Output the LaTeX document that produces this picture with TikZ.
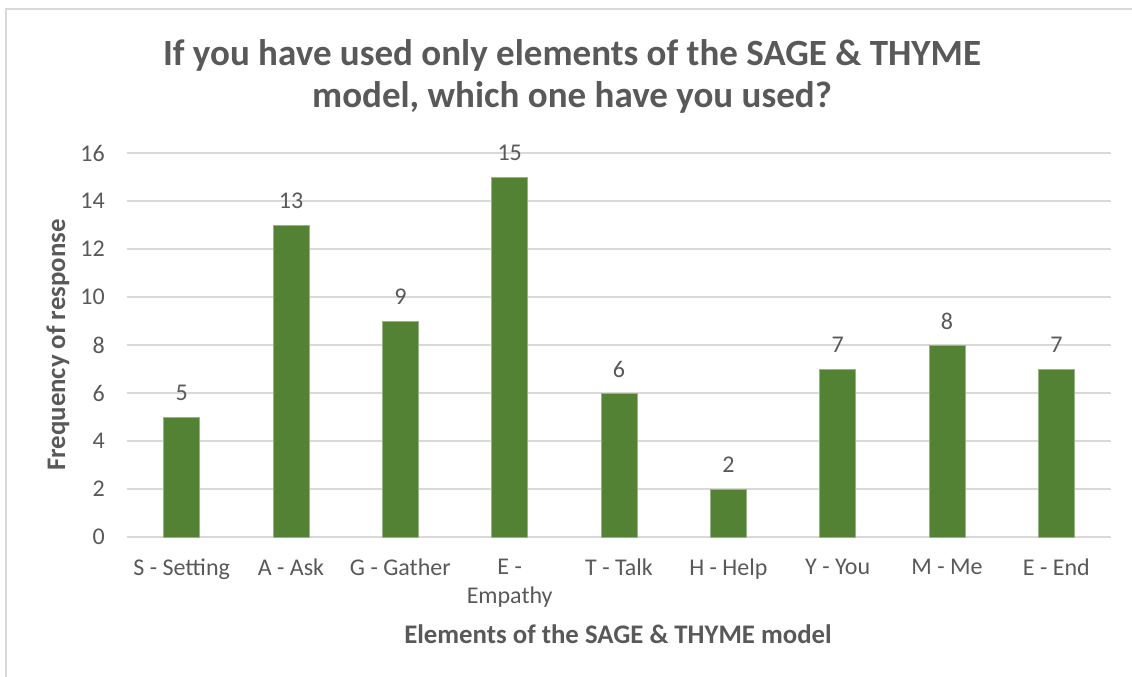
\documentclass[tikz,border=0pt]{standalone}
\usepackage{fontspec}
\setmainfont{Carlito}
\definecolor{txt}{HTML}{595959}
\definecolor{grid}{HTML}{D9D9D9}
\definecolor{bar}{HTML}{548235}
\begin{document}
\begin{tikzpicture}[x=1pt,y=-1pt,
  gridline/.style={draw=grid,line width=1.5pt},
  barbox/.style={fill=bar,draw=bar!60!white,line width=0.6pt},
  ticklab/.style={text=txt,font=\fontsize{24}{29}\selectfont,anchor=east,inner sep=0pt},
  catlab/.style={text=txt,font=\fontsize{24}{29}\selectfont,anchor=north,inner sep=0pt,align=center},
  vallab/.style={text=txt,font=\fontsize{24}{29}\selectfont,inner sep=0pt},
  axtitle/.style={text=txt,font=\bfseries\fontsize{26.8}{32}\selectfont,inner sep=0pt},
  charttitle/.style={text=txt,font=\bfseries\fontsize{37}{42}\selectfont,inner sep=0pt,align=center,anchor=base}]
\useasboundingbox (0,0) rectangle (1132,677);
\clip (0,0) rectangle (1132,677);
\fill[white] (0,0) rectangle (1132,677);
\draw[draw=grid,line width=2pt] (6,9) rectangle (1150,700);
% gridlines and tick labels
\foreach \v in {0,2,...,16}{
  \coordinate (gl\v) at (127,537-24*\v);
  \coordinate (gr\v) at (1111,537-24*\v);
  \draw[gridline] (gl\v) -- (gr\v);
  \node[ticklab] (t\v) at (105,537-24*\v) {\v};
}
% bars
\foreach \i/\v/\lab in {0/5/{S - Setting},1/13/{A - Ask},2/9/{G - Gather},3/15/{E -\\Empathy},4/6/{T - Talk},5/2/{H - Help},6/7/{Y - You},7/8/{M - Me},8/7/{E - End}}{
  \pgfmathsetmacro{\cx}{127+109.333*(\i+0.5)}
  \path[barbox] (\cx-18,537) rectangle (\cx+18,537-24*\v);
  \node[vallab] (v\i) at (\cx,537-24*\v-24) {\v};
  \node[catlab] (c\i) at (\cx,559) {\lab};
}
\node[axtitle] (xt) at (618,634) {Elements of the SAGE \& THYME model};
\node[axtitle,rotate=90] (yt) at (58,345) {Frequency of response};
\node[charttitle] (title) at (572,107) {If you have used only elements of the SAGE \& THYME\\model, which one have you used?};
\end{tikzpicture}
\end{document}
